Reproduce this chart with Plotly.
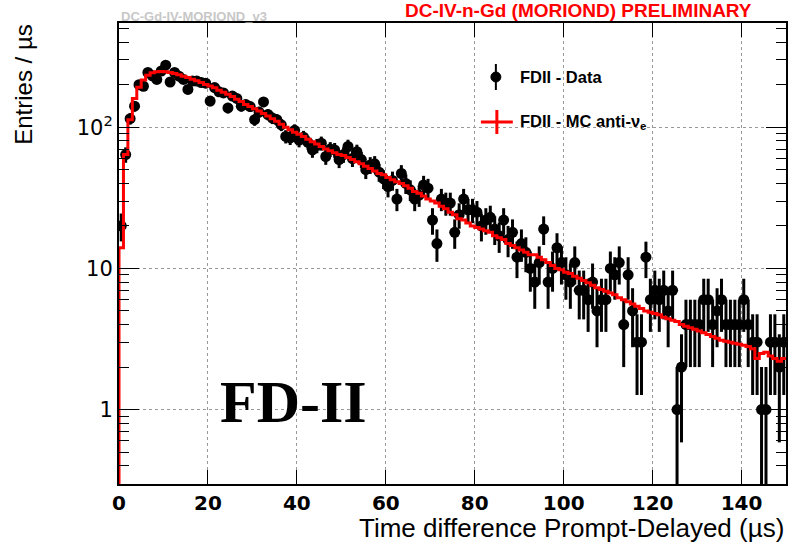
import numpy as np
import plotly.graph_objects as go

# ---------------- data ----------------
bin_edges_start = 0
bin_width = 1  # µs
data_counts = [
    20, 64, 115, 141, 200, 195, 244, 231, 218, 250,
    275, 209, 244, 230, 218, 185, 212, 212, 207, 205,
    153, 191, 178, 175, 137, 166, 160, 141, 145, 140,
    113, 128, 151, 123, 116, 113, 104, 86, 84, 95,
    81, 85, 78, 69, 74, 77, 62, 70, 69, 59,
    64, 73, 60, 67, 59, 50, 54, 55, 48, 43,
    38, 42, 31, 47, 40, 36, 31, 33, 39, 37,
    22, 15, 31, 29, 29, 18, 24, 31, 26, 26,
    25, 20, 22, 23, 19, 17, 22, 16, 18, 12,
    15, 13, 10, 8, 11, 19, 8, 10, 14, 11,
    9, 8, 11, 7, 7, 6, 8, 5, 6, 6,
    10, 9, 11, 4, 9, 5, 3, 3, 12, 6,
    7, 6, 7, 5, 7, 1, 2, 4, 4, 4,
    4, 6, 6, 4, 5, 6, 4, 4, 4, 4,
    6, 4, 3, 3, 1, 1, 3, 3, 2, 3,
]
mc_values = [
    14, 64, 113, 160, 192, 216, 233, 243, 247, 248,
    247, 244, 240, 235, 230, 225, 219, 213, 207, 201,
    196, 190, 183, 177, 171, 165, 158, 152, 145, 140,
    135, 130, 125, 120, 115, 110, 105, 100, 96, 92,
    89, 86, 82, 79, 76, 73, 70, 68, 66, 64,
    63, 61, 59, 57, 55, 53, 51, 49, 47, 46,
    44, 42.5, 41, 40, 38.5, 37, 35, 34, 32.5, 31,
    30, 29, 27.5, 26.5, 25, 24, 22.5, 22, 21, 20,
    19.5, 19, 18.5, 18, 17, 16.5, 16, 15, 14.5, 14,
    13.5, 13, 12.5, 12.5, 12, 11.5, 11, 10.5, 10, 9.8,
    9.4, 9.2, 8.8, 8.5, 8.2, 7.9, 7.6, 7.3, 7.1, 6.9,
    6.7, 6.5, 6.2, 6.0, 5.8, 5.6, 5.4, 5.2, 5.0, 4.9,
    4.8, 4.7, 4.5, 4.4, 4.3, 4.2, 4.0, 3.9, 3.8, 3.7,
    3.6, 3.5, 3.4, 3.3, 3.2, 3.1, 3.05, 3.0, 2.95, 2.9,
    2.85, 2.8, 2.7, 2.3, 2.5, 2.55, 2.4, 2.3, 2.2, 2.3,
]
x_ticks = [0, 20, 40, 60, 80, 100, 120, 140]
y_tickvals = [1, 10, 100]
y_ticktext = ["1", "10", "10<sup>2</sup>"]

# ---------------- derived ----------------
counts = np.array(data_counts, dtype=float)
nb = len(counts)
centers = bin_edges_start + bin_width * (np.arange(nb) + 0.5)
err_up = np.sqrt(counts)
err_dn = np.minimum(np.sqrt(counts), counts - 1e-4)

edges = bin_edges_start + bin_width * np.arange(nb + 1)
mc_x = np.concatenate([[edges[0] - 1], edges])
mc_y = np.concatenate([[1e-3], mc_values, [mc_values[-1]]])

minor_y = [v * 10.0 ** d for d in (-1, 0, 1, 2) for v in range(2, 10)]
minor_y = [v for v in minor_y if 0.29 < v < 560]

fig = go.Figure()
fig.add_trace(go.Scatter(
    x=centers, y=counts, mode="markers",
    marker=dict(color="black", size=11, symbol="circle"),
    error_y=dict(type="data", array=err_up, arrayminus=err_dn, symmetric=False,
                 color="black", thickness=3, width=0),
    showlegend=False,
))
fig.add_trace(go.Scatter(
    x=mc_x, y=mc_y, mode="lines", line=dict(color="#ff0000", width=3, shape="hv"),
    showlegend=False,
))

# pixel -> paper helpers (plot area 119..788 x, 23..484 y)
L, R, T, B = 119, 788, 23, 484
def px(x):
    return (x - L) / (R - L)
def py(y):
    return (B - y) / (B - T)

sans = "Liberation Sans"
ann = []
ann.append(dict(x=px(788), y=py(528), xref="paper", yref="paper", xanchor="right", yanchor="middle",
                text="Time difference Prompt-Delayed (µs)", showarrow=False,
                font=dict(family=sans, size=26, color="black")))
ann.append(dict(x=px(23), y=py(22), xref="paper", yref="paper", xanchor="center", yanchor="top",
                text="Entries / µs", textangle=-90, showarrow=False,
                font=dict(family=sans, size=24, color="black")))
ann.append(dict(x=px(119), y=py(16), xref="paper", yref="paper", xanchor="left", yanchor="middle",
                text="<b>DC-Gd-IV-MORIOND_v3</b>", showarrow=False,
                font=dict(family=sans, size=13, color="#c8c8c8")))
ann.append(dict(x=px(756), y=py(10), xref="paper", yref="paper", xanchor="right", yanchor="middle",
                text="<b>DC-IV-n-Gd (MORIOND) PRELIMINARY</b>", showarrow=False,
                font=dict(family=sans, size=19, color="#ff0000")))
ann.append(dict(x=px(294), y=py(402), xref="paper", yref="paper", xanchor="center", yanchor="middle",
                text="<b>FD-II</b>", showarrow=False,
                font=dict(family="Liberation Serif", size=60, color="black")))
ann.append(dict(x=px(519), y=py(77), xref="paper", yref="paper", xanchor="left", yanchor="middle",
                text="<b>FDII - Data</b>", showarrow=False,
                font=dict(family=sans, size=16.5, color="black")))
ann.append(dict(x=px(519), y=py(122), xref="paper", yref="paper", xanchor="left", yanchor="middle",
                text="<b>FDII - MC anti-ν<sub>e</sub></b>", showarrow=False,
                font=dict(family=sans, size=16.5, color="black")))

shapes = []
# legend symbols
shapes.append(dict(type="line", xref="paper", yref="paper", x0=px(497), x1=px(497), y0=py(64), y1=py(90),
                   line=dict(color="black", width=2)))
shapes.append(dict(type="circle", xref="paper", yref="paper", x0=px(492), x1=px(502), y0=py(72), y1=py(82),
                   line=dict(color="black", width=1), fillcolor="black"))
shapes.append(dict(type="line", xref="paper", yref="paper", x0=px(482), x1=px(514), y0=py(122), y1=py(122),
                   line=dict(color="#ff0000", width=3)))
shapes.append(dict(type="line", xref="paper", yref="paper", x0=px(498), x1=px(498), y0=py(110), y1=py(134),
                   line=dict(color="#ff0000", width=3)))

fig.update_layout(
    width=790, height=551,
    margin=dict(l=L, r=790 - R, t=T, b=551 - B),
    paper_bgcolor="white", plot_bgcolor="white",
    annotations=ann, shapes=shapes,
    xaxis=dict(
        range=[0, 150], tickvals=x_ticks, ticks="inside", ticklen=14, tickwidth=1, tickcolor="black",
        showline=True, linecolor="black", linewidth=2, mirror="ticks",
        showgrid=True, gridcolor="#999999", griddash="dot", gridwidth=1,
        zeroline=False, ticklabelstandoff=0,
        tickfont=dict(family="DejaVu Sans", size=20, color="black", weight="bold"),
    ),
    yaxis=dict(
        type="log", range=[-0.527, 2.738],
        tickvals=y_tickvals, ticktext=y_ticktext, ticks="inside", ticklen=20, tickwidth=1, tickcolor="black",
        showline=True, linecolor="black", linewidth=2, mirror="ticks",
        showgrid=True, gridcolor="#999999", griddash="dot", gridwidth=1,
        zeroline=False,
        tickfont=dict(family="DejaVu Sans", size=21, color="black"),
        minor=dict(tickvals=minor_y, ticks="inside", ticklen=10, tickcolor="black", showgrid=False),
    ),
)

fig.write_html("out.html", config={"displayModeBar": False},
               post_script="document.body.style.margin='0';")
